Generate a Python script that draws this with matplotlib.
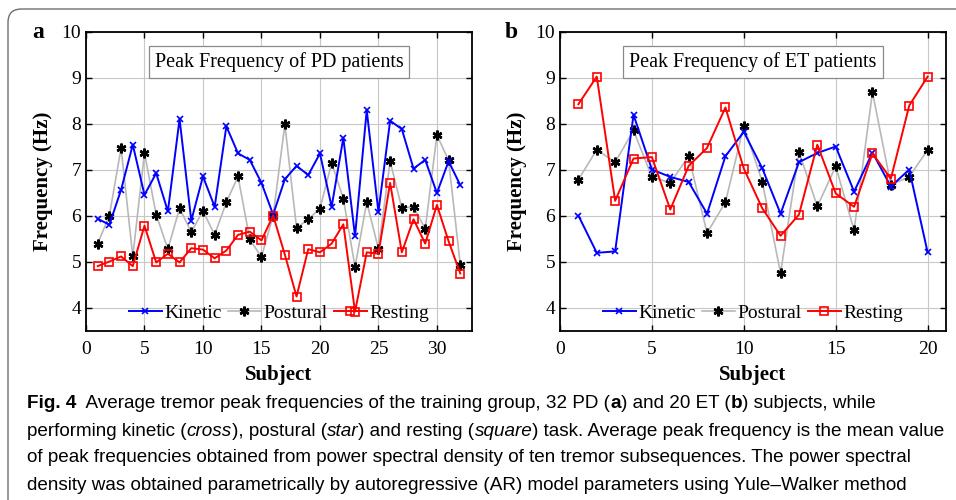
import matplotlib
matplotlib.use("Agg")
import numpy as np
import matplotlib.pyplot as plt
from matplotlib.patches import FancyBboxPatch

# average peak frequencies (Hz) per subject
pd_kinetic = [5.94, 5.81, 6.57, 7.55, 6.46, 6.93, 6.10, 8.11, 5.90, 6.86, 6.20, 7.95,
              7.36, 7.22, 6.72, 6.03, 6.80, 7.09, 6.89, 7.36, 6.20, 7.70, 5.56, 8.30,
              6.09, 8.07, 7.89, 7.03, 7.22, 6.50, 7.19, 6.67]
pd_postural = [5.40, 6.01, 7.48, 5.12, 7.37, 6.03, 5.28, 6.17, 5.65, 6.11, 5.59, 6.30,
               6.86, 5.49, 5.11, 6.01, 7.99, 5.74, 5.93, 6.16, 7.15, 6.38, 4.89, 6.30,
               5.29, 7.19, 6.17, 6.20, 5.72, 7.76, 7.21, 4.94]
pd_resting = [4.91, 5.01, 5.12, 4.91, 5.79, 4.99, 5.18, 4.99, 5.30, 5.27, 5.08, 5.25,
              5.59, 5.66, 5.47, 6.01, 5.16, 4.25, 5.28, 5.21, 5.40, 5.82, 3.92, 5.21,
              5.18, 6.72, 5.21, 5.93, 5.40, 6.24, 5.45, 4.75]

et_kinetic = [6.01, 5.20, 5.23, 8.20, 7.01, 6.85, 6.74, 6.05, 7.30, 7.83,
              7.04, 6.05, 7.17, 7.37, 7.51, 6.53, 7.38, 6.64, 7.01, 5.21]
et_postural = [6.79, 7.44, 7.17, 7.86, 6.85, 6.72, 7.30, 5.63, 6.30, 7.96,
               6.75, 4.76, 7.39, 6.21, 7.08, 5.69, 8.69, 6.68, 6.85, 7.44]
et_resting = [8.43, 9.03, 6.33, 7.25, 7.28, 6.14, 7.09, 7.48, 8.36, 7.03,
              6.17, 5.57, 6.03, 7.55, 6.49, 6.20, 7.36, 6.81, 8.40, 9.03]

panels = [
    ("a", "Peak Frequency of PD patients", pd_kinetic, pd_postural, pd_resting, 33, [0, 5, 10, 15, 20, 25, 30]),
    ("b", "Peak Frequency of ET patients", et_kinetic, et_postural, et_resting, 21, [0, 5, 10, 15, 20]),
]

# caption runs: (text, weight, style)
caption_lines = [
    [("Fig. 4", "bold", "normal"), ("  Average tremor peak frequencies of the training group, 32 PD (", "normal", "normal"),
     ("a", "bold", "normal"), (") and 20 ET (", "normal", "normal"), ("b", "bold", "normal"),
     (") subjects, while", "normal", "normal")],
    [("performing kinetic (", "normal", "normal"), ("cross", "normal", "italic"), ("), postural (", "normal", "normal"),
     ("star", "normal", "italic"), (") and resting (", "normal", "normal"), ("square", "normal", "italic"),
     (") task. Average peak frequency is the mean value", "normal", "normal")],
    [("of peak frequencies obtained from power spectral density of ten tremor subsequences. The power spectral", "normal", "normal")],
    [("density was obtained parametrically by autoregressive (AR) model parameters using Yule\u2013Walker method", "normal", "normal")],
]

serif = "Liberation Serif"
cap_font = "Liberation Sans"

W, H = 956, 500
fig = plt.figure(figsize=(W / 100, H / 100), dpi=100)

# rounded frame, open towards the right and bottom edges
frame = FancyBboxPatch((8 / W, -0.1), 1.1, 1.1 - 9 / H,
                       boxstyle="round,pad=0,rounding_size=0.014",
                       transform=fig.transFigure, fill=False,
                       edgecolor="#6e6e6e", linewidth=1.0, mutation_aspect=W / H)
fig.patches.append(frame)

lefts = [86 / W, 560 / W]
for (letter, title, kin, pos, rest, xmax, xticks), left in zip(panels, lefts):
    ax = fig.add_axes([left, 169 / H, 386 / W, 299 / H])
    x = np.arange(1, len(kin) + 1)
    ax.plot(x, kin, color="blue", lw=1.4, marker="x", ms=5, mew=1.2, label="Kinetic", zorder=3)
    ax.plot(x, pos, color="#b8b8b8", lw=1.2, marker=(6, 2, 0), ms=7, mew=1.8,
            mec="black", mfc="black", label="Postural", zorder=2)
    ax.plot(x, rest, color="red", lw=1.4, marker="s", ms=6, mew=1.2, mfc="none", label="Resting", zorder=4)

    ax.set_xlim(0, xmax)
    ax.set_ylim(3.5, 10)
    ax.set_xticks(xticks)
    ax.set_yticks([4, 5, 6, 7, 8, 9, 10])
    ax.grid(True, color="#c8c8c8", lw=0.8)
    ax.set_axisbelow(True)
    ax.tick_params(direction="in", right=True, top=True, length=4, labelsize=14, width=1)
    ax.tick_params(axis="x", pad=7)
    for lab in ax.get_xticklabels() + ax.get_yticklabels():
        lab.set_fontfamily(serif)
    for sp in ax.spines.values():
        sp.set_linewidth(1.3)

    ax.set_xlabel("Subject", fontfamily=serif, fontweight="bold", fontsize=15, labelpad=5)
    ax.set_ylabel("Frequency (Hz)", fontfamily=serif, fontweight="bold", fontsize=15, labelpad=6)
    ax.text(0.5, 0.9, title, transform=ax.transAxes, ha="center", va="center",
            fontfamily=serif, fontsize=14.5,
            bbox=dict(boxstyle="square,pad=0.3", fc="white", ec="#8a8a8a", lw=0.9), zorder=6)
    ax.text(-0.125, 1.0, letter, transform=ax.transAxes, ha="center", va="center",
            fontfamily=serif, fontweight="bold", fontsize=17)

    leg = ax.legend(loc="lower center", ncol=3, frameon=False, handlelength=1.7,
                    handletextpad=0.15, columnspacing=0.3, borderaxespad=0.05,
                    prop={"family": serif, "size": 14})
    leg.set_zorder(7)

# caption below the panels, laid out run by run
fig.canvas.draw()
renderer = fig.canvas.get_renderer()
for i, parts in enumerate(caption_lines):
    y = 1 - (404 + i * 27) / H
    xpos = 27 / W
    for s, wt, st in parts:
        t = fig.text(xpos, y, s, fontfamily=cap_font, fontsize=13.6, fontweight=wt,
                     fontstyle=st, va="center", ha="left")
        xpos += t.get_window_extent(renderer).width / W

fig.savefig("out.png", dpi=100)
